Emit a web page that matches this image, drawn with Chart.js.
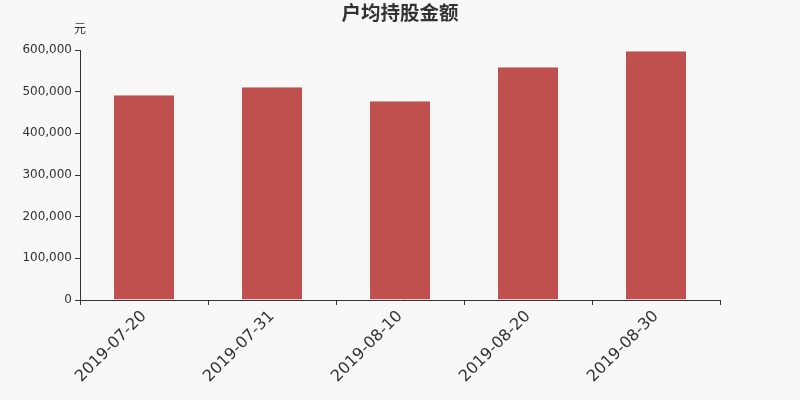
<!DOCTYPE html>
<html>
<head>
<meta charset="utf-8">
<script src="https://cdn.jsdelivr.net/npm/chart.js@4.4.1/dist/chart.umd.min.js"></script>
<style>
  html, body { margin: 0; padding: 0; background: #f8f8f8; }
  #wrap { width: 800px; height: 400px; }
</style>
</head>
<body>
<div id="wrap"><canvas id="myChart" width="800" height="400"></canvas></div>
<script>
// 데이터
var dates = ['2019-07-20', '2019-07-31', '2019-08-10', '2019-08-20', '2019-08-30'];
var amounts = [492000, 511000, 477600, 559200, 597600];
var yTicks = [0, 100000, 200000, 300000, 400000, 500000, 600000];

var titleText = '户均持股金额';
var unitText = '元';

// 제목, 단위 그리기
var textPlugin = {
  id: 'textPlugin',
  beforeDraw: function(chart) {
    var ctx = chart.ctx;
    ctx.save();
    ctx.fillStyle = '#f8f8f8';
    ctx.fillRect(0, 0, chart.width, chart.height);
    ctx.restore();
  },
  afterDraw: function(chart) {
    var ctx = chart.ctx;
    ctx.save();
    ctx.fillStyle = '#333';
    ctx.textAlign = 'center';
    ctx.textBaseline = 'middle';
    ctx.font = 'bold 19.5px "Noto Sans CJK SC"';
    ctx.fillText(titleText, 400, 13);
    ctx.font = '12px "Noto Sans CJK SC"';
    ctx.fillText(unitText, 80, 28);
    ctx.restore();
  }
};

new Chart(document.getElementById('myChart'), {
  type: 'bar',
  data: {
    labels: dates,
    datasets: [{
      data: amounts,
      backgroundColor: '#c0504d',
      borderColor: '#d99a98',
      borderWidth: { top: 1, left: 0, right: 0, bottom: 0 },
      borderSkipped: false,
      categoryPercentage: 1,
      barPercentage: 0.47
    }]
  },
  options: {
    responsive: false,
    devicePixelRatio: 1,
    animation: false,
    layout: { padding: { top: 50, right: 80, left: 0, bottom: 0 } },
    plugins: {
      legend: { display: false },
      title: { display: false },
      tooltip: { enabled: false }
    },
    scales: {
      x: {
        afterFit: function(scale) { scale.height = 100; },
        grid: { display: true, offset: true, drawOnChartArea: false, drawTicks: true, tickLength: 5, color: '#333' },
        border: { display: true, color: '#333', width: 1 },
        ticks: {
          minRotation: 45, maxRotation: 45,
          color: '#333',
          font: { family: 'DejaVu Sans', size: 16 },
          padding: 2
        }
      },
      y: {
        min: 0, max: 600000,
        afterFit: function(scale) { scale.width = 80; },
        afterBuildTicks: function(scale) {
          scale.ticks = yTicks.map(function(v) { return { value: v }; });
        },
        grid: { display: true, drawOnChartArea: false, drawTicks: true, tickLength: 5, color: '#333' },
        border: { display: true, color: '#333', width: 1 },
        ticks: {
          color: '#333',
          font: { family: 'DejaVu Sans', size: 12 },
          padding: 3,
          callback: function(v) { return v.toLocaleString('en-US'); }
        }
      }
    }
  },
  plugins: [textPlugin]
});
</script>
</body>
</html>
